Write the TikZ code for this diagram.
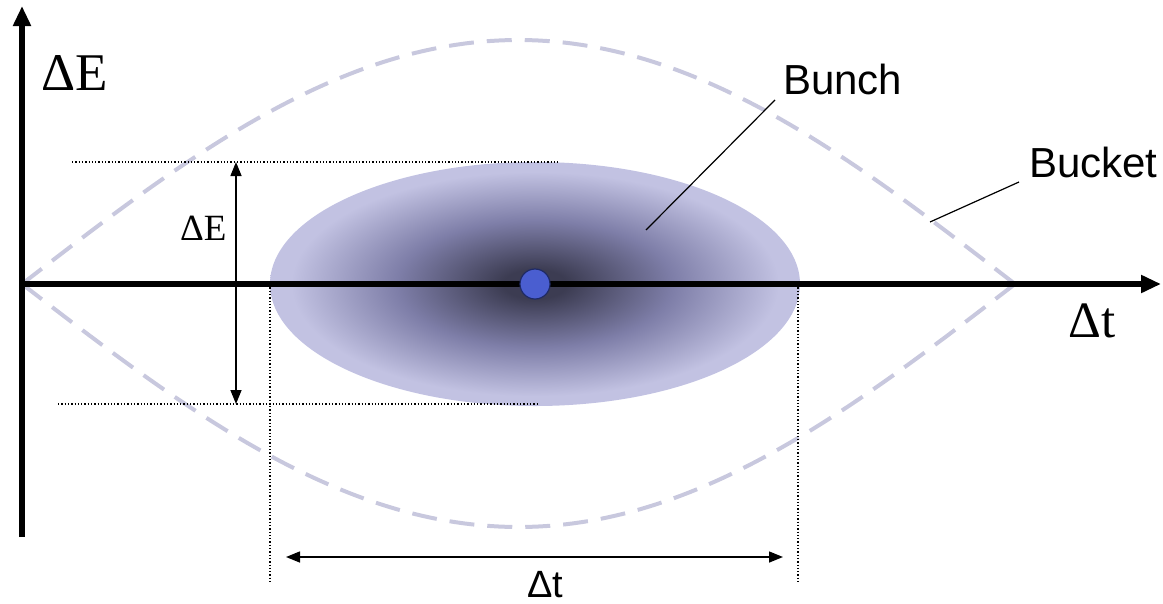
\documentclass[tikz,border=0pt]{standalone}
\usepackage{fontspec}
\setmainfont{Liberation Serif}
\newfontfamily\arialf{Liberation Sans}
\usetikzlibrary{arrows.meta}
\definecolor{bcenter}{HTML}{3C3C52}
\definecolor{bmid}{HTML}{7E7EA8}
\definecolor{bedge}{HTML}{C2C2E2}
\definecolor{bucketc}{HTML}{C8C8DE}
\definecolor{dotc}{HTML}{4A5ED0}
\definecolor{dotb}{HTML}{1E2A66}
\pgfdeclareradialshading{bunchshade}{\pgfpoint{0bp}{0bp}}{color(0bp)=(bcenter); color(3bp)=(bcenter); color(13bp)=(bmid); color(23bp)=(bedge); color(25bp)=(bedge); color(50bp)=(bedge)}
\tikzset{
  axis/.style={line width=6pt,-{Triangle[length=20pt,width=17pt]}},
  dimarrow/.style={line width=1.5pt,{Triangle[length=14pt,width=11pt]}-{Triangle[length=14pt,width=11pt]}},
  guide/.style={line width=1.3pt,dotted},
  leader/.style={line width=1.2pt},
  bucketline/.style={draw=bucketc,line width=4pt,dash pattern=on 25pt off 13pt},
  seriflabel/.style={inner sep=0pt,anchor=base west},
  sanslabel/.style={inner sep=0pt,anchor=base west},
}
\begin{document}
\begin{tikzpicture}[x=1pt,y=-1pt]
\useasboundingbox (0,0) rectangle (1163,603);
% bunch
\shade[shading=bunchshade] (535,284) ellipse [x radius=265, y radius=122];
% bucket
\draw[bucketline] plot[domain=0:180,samples=120] ({22+\x*5.51667},{284-244*sin(\x)});
\draw[bucketline] plot[domain=0:180,samples=120] ({22+\x*5.51667},{284+243*sin(\x)});
% coordinates
\coordinate (o) at (22,284);
\coordinate (ytip) at (22,6);
\coordinate (ybot) at (22,537);
\coordinate (xtip) at (1161,284);
\coordinate (tl) at (72,162);
\coordinate (tr) at (560,162);
\coordinate (bl) at (58,404);
\coordinate (br) at (537,404);
\coordinate (vlt) at (270,284);
\coordinate (vlb) at (270,584);
\coordinate (vrt) at (798,284);
\coordinate (vrb) at (798,584);
\coordinate (eTop) at (236,162);
\coordinate (eBot) at (236,404);
\coordinate (tL) at (286,557);
\coordinate (tR) at (783,557);
% guides
\draw[guide] (tl) -- (tr);
\draw[guide] (bl) -- (br);
\draw[guide] (vlt) -- (vlb);
\draw[guide] (vrt) -- (vrb);
% axes
\draw[axis] (ybot) -- (ytip);
\draw[axis] (o) -- (xtip);
% centre dot
\node[circle,fill=dotc,draw=dotb,line width=1.2pt,minimum size=30pt,inner sep=0pt] (dot) at (535,284) {};
% dimension arrows
\draw[dimarrow] (eBot) -- (eTop);
\draw[dimarrow] (tL) -- (tR);
% labels
\node[seriflabel,font=\fontsize{53}{53}\selectfont] (lE) at (41,90) {ΔE};
\node[seriflabel,font=\fontsize{51}{51}\selectfont] (lt) at (1068,337) {Δt};
\node[seriflabel,font=\fontsize{37}{37}\selectfont] (sE) at (180,240) {ΔE};
\node[sanslabel,font=\arialf\fontsize{38}{38}\selectfont] (st) at (527,597) {Δt};
\node[sanslabel,font=\arialf\fontsize{42}{42}\selectfont] (bunch) at (783,94) {Bunch};
\node[sanslabel,font=\arialf\fontsize{42}{42}\selectfont] (bucket) at (1029,177) {Bucket};
% leaders
\coordinate (bunchA) at (646,230);
\coordinate (bunchB) at (775,100);
\coordinate (bucketA) at (930,222);
\coordinate (bucketB) at (1019,182);
\draw[leader] (bunchA) -- (bunchB);
\draw[leader] (bucketA) -- (bucketB);
\end{tikzpicture}
\end{document}
